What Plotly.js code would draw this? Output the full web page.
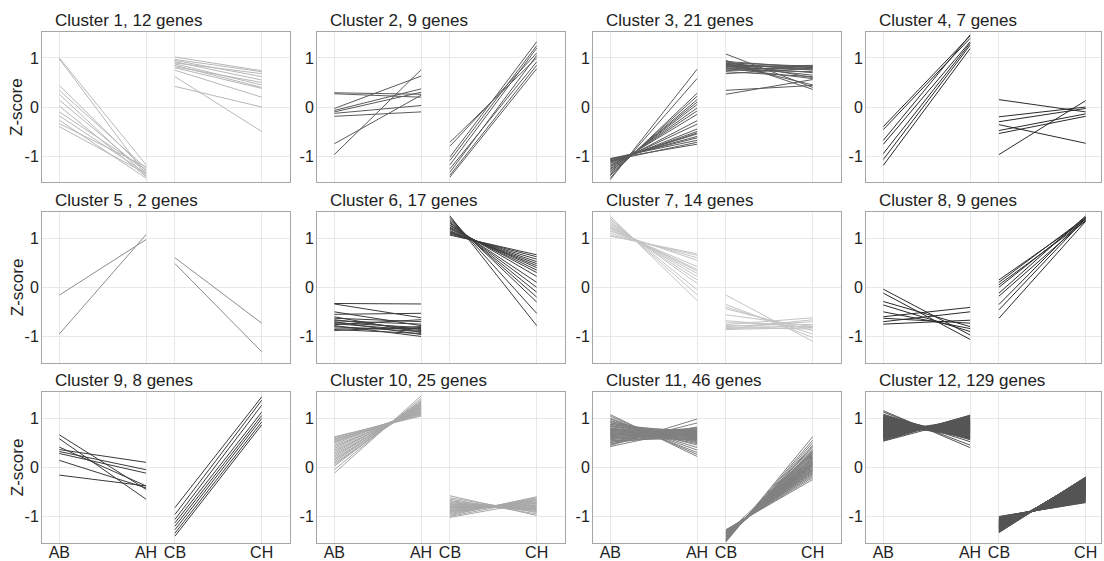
<!DOCTYPE html>
<html><head><meta charset="utf-8">
<script src="https://cdn.plot.ly/plotly-3.0.1.min.js"></script>
<style>html,body{margin:0;padding:0;background:#fff}#chart{width:1104px;height:561px}</style>
</head><body><div id="chart"></div>
<script>
const xCats = ['AB','AH','CB','CH'];
const xPos = [0, 3, 4, 7];
const yTicks = [-1, 0, 1];
const yTickText = ['-1', '0', '1'];
const titles = ['Cluster 1, 12 genes','Cluster 2, 9 genes','Cluster 3, 21 genes','Cluster 4, 7 genes',
  'Cluster 5 , 2 genes','Cluster 6, 17 genes','Cluster 7, 14 genes','Cluster 8, 9 genes',
  'Cluster 9, 8 genes','Cluster 10, 25 genes','Cluster 11, 46 genes','Cluster 12, 129 genes'];
const lineColors = ['#b8b8b8','#5a5a5a','#5a5a5a','#2a2a2a','#8c8c8c','#3c3c3c','#c4c4c4','#2a2a2a','#3a3a3a','#a8a8a8','#808080','#555555'];

const c1AB = [1.00,0.98,0.44,0.34,0.26,0.14,0.02,-0.10,-0.18,-0.27,-0.34,-0.40];
const c1AH = [-1.18,-1.38,-1.30,-1.25,-1.40,-1.33,-1.42,-1.28,-1.35,-1.45,-1.22,-1.36];
const c1CB = [1.02,0.97,0.95,0.92,0.90,0.88,0.85,0.82,0.80,0.75,0.62,0.42];
const c1CH = [0.74,0.72,0.62,0.55,0.68,0.45,0.40,0.50,0.38,0.20,-0.50,0.00];

const c2AB = [0.29,0.27,-0.03,-0.07,-0.10,-0.13,-0.19,-0.75,-0.97];
const c2AH = [0.26,0.20,0.63,0.37,0.30,0.03,-0.10,0.24,0.76];
const c2CB = [-0.72,-0.80,-1.02,-1.09,-1.18,-1.26,-1.33,-1.39,-1.43];
const c2CH = [1.00,1.10,1.33,1.25,1.20,0.92,1.05,0.85,0.78];

const c3AB = [-1.48,-1.45,-1.40,-1.38,-1.35,-1.32,-1.30,-1.27,-1.25,-1.22,-1.20,-1.18,-1.15,-1.13,-1.12,-1.10,-1.08,-1.07,-1.05,-1.10,-1.06];
const c3AH = [0.77,0.58,0.28,0.22,0.15,0.10,0.05,-0.02,-0.08,-0.15,-0.28,-0.35,-0.45,-0.50,-0.53,-0.55,-0.60,-0.63,-0.68,-0.72,-0.76];
const c3CB = [1.08,0.95,0.93,0.92,0.90,0.89,0.88,0.87,0.85,0.84,0.83,0.82,0.80,0.79,0.78,0.76,0.74,0.72,0.68,0.34,0.26];
const c3CH = [0.40,0.36,0.80,0.60,0.83,0.75,0.45,0.78,0.82,0.70,0.65,0.85,0.77,0.58,0.80,0.72,0.84,0.62,0.79,0.44,0.56];

const c4AB = [-0.40,-0.46,-0.68,-0.76,-0.95,-1.07,-1.19];
const c4AH = [1.45,1.40,1.47,1.33,1.30,1.26,1.19];
const c4CB = [0.15,-0.20,-0.30,-0.36,-0.48,-0.54,-0.97];
const c4CH = [-0.10,0.00,-0.03,-0.74,-0.14,-0.19,0.13];

const c5AB = [-0.16,-0.95];
const c5AH = [0.97,1.07];
const c5CB = [0.60,0.48];
const c5CH = [-0.73,-1.31];

const c6AB = [-0.33,-0.34,-0.50,-0.55,-0.60,-0.63,-0.66,-0.68,-0.70,-0.72,-0.74,-0.76,-0.78,-0.80,-0.83,-0.86,-0.88];
const c6AH = [-0.34,-0.62,-0.78,-0.53,-0.92,-0.70,-0.86,-0.75,-0.96,-0.82,-0.88,-0.66,-1.00,-0.90,-0.84,-0.94,-0.80];
const c6CB = [1.45,1.42,1.38,1.35,1.32,1.30,1.27,1.25,1.22,1.20,1.18,1.15,1.13,1.12,1.10,1.08,1.06];
const c6CH = [-0.78,-0.53,-0.30,-0.20,-0.10,0.00,0.10,0.22,0.30,0.35,0.40,0.44,0.48,0.52,0.57,0.62,0.66];

const c7AB = [1.44,1.40,1.37,1.33,1.30,1.27,1.24,1.22,1.20,1.17,1.14,1.10,1.06,1.04];
const c7AH = [-0.27,-0.15,-0.05,0.08,0.15,0.22,0.28,0.33,0.36,0.42,0.55,0.60,0.65,0.68];
const c7CB = [-0.16,-0.35,-0.40,-0.44,-0.56,-0.68,-0.72,-0.76,-0.78,-0.80,-0.82,-0.84,-0.85,-0.86];
const c7CH = [-1.10,-1.02,-0.95,-0.88,-0.80,-0.82,-0.76,-0.62,-0.80,-0.70,-0.85,-0.79,-0.66,-0.82];

const c8AB = [-0.04,-0.12,-0.29,-0.36,-0.50,-0.60,-0.63,-0.70,-0.75];
const c8AH = [-0.97,-1.06,-0.80,-0.90,-0.84,-0.41,-0.73,-0.50,-0.67];
const c8CB = [0.15,0.10,0.05,0.00,-0.12,-0.18,-0.35,-0.46,-0.63];
const c8CH = [1.38,1.42,1.35,1.40,1.45,1.36,1.43,1.40,1.34];

const c9AB = [0.66,0.58,0.41,0.36,0.32,0.28,0.14,-0.16];
const c9AH = [-0.45,-0.65,-0.38,0.10,-0.05,-0.12,-0.42,-0.38];
const c9CB = [-0.82,-0.96,-1.06,-1.13,-1.20,-1.27,-1.34,-1.40];
const c9CH = [1.43,1.36,1.26,1.12,1.05,0.99,0.92,0.86];

const c10AB = [0.62,0.60,0.58,0.56,0.54,0.52,0.50,0.47,0.44,0.41,0.38,0.35,0.32,0.29,0.26,0.23,0.20,0.17,0.14,0.11,0.08,0.05,0.02,-0.05,-0.12];
const c10AH = [1.04,1.08,1.06,1.10,1.12,1.09,1.14,1.16,1.13,1.18,1.20,1.17,1.22,1.24,1.21,1.26,1.28,1.25,1.30,1.32,1.29,1.34,1.36,1.40,1.45];
const c10CB = [-0.58,-0.62,-0.65,-0.68,-0.70,-0.72,-0.74,-0.76,-0.78,-0.80,-0.81,-0.83,-0.85,-0.86,-0.88,-0.90,-0.92,-0.94,-0.96,-0.98,-1.00,-1.02,-0.75,-0.82,-0.90];
const c10CH = [-0.98,-0.92,-0.95,-0.88,-0.90,-0.86,-0.84,-0.87,-0.82,-0.80,-0.78,-0.76,-0.74,-0.72,-0.70,-0.68,-0.66,-0.64,-0.62,-0.60,-0.65,-0.70,-0.85,-0.78,-0.73];

const c11AB = [1.07,1.04,1.00,0.98,0.95,0.93,0.91,0.90,0.88,0.87,0.85,0.84,0.83,0.82,0.80,0.79,0.78,0.77,0.76,0.75,0.74,0.73,0.72,0.71,0.70,0.69,0.68,0.67,0.66,0.65,0.64,0.63,0.62,0.61,0.60,0.58,0.57,0.56,0.54,0.53,0.51,0.50,0.48,0.46,0.44,0.42];
const c11AH = [0.22,0.26,0.30,0.35,0.40,0.55,0.45,0.62,0.50,0.70,0.58,0.48,0.66,0.74,0.60,0.52,0.68,0.72,0.56,0.64,0.78,0.60,0.70,0.54,0.66,0.76,0.62,0.58,0.72,0.68,0.80,0.64,0.74,0.56,0.70,0.78,0.66,0.72,0.60,0.76,0.68,0.82,0.74,0.90,0.98,0.80];
const c11CB = [-1.52,-1.50,-1.49,-1.48,-1.47,-1.46,-1.46,-1.45,-1.44,-1.44,-1.43,-1.42,-1.42,-1.41,-1.40,-1.40,-1.39,-1.39,-1.38,-1.38,-1.37,-1.37,-1.36,-1.36,-1.35,-1.35,-1.34,-1.34,-1.33,-1.33,-1.32,-1.32,-1.31,-1.31,-1.30,-1.30,-1.29,-1.29,-1.28,-1.28,-1.27,-1.44,-1.40,-1.36,-1.34,-1.38];
const c11CH = [0.62,0.55,0.50,0.45,0.42,0.40,0.36,0.34,0.32,0.30,0.28,0.26,0.24,0.22,0.20,0.18,0.17,0.15,0.14,0.12,0.11,0.10,0.08,0.07,0.06,0.05,0.04,0.02,0.01,0.00,-0.02,-0.04,-0.05,-0.07,-0.09,-0.11,-0.13,-0.15,-0.18,-0.21,-0.25,0.20,0.10,0.30,-0.06,0.02];

const c12AB = [1.15,1.12,1.08,1.06,1.05,1.04,1.04,1.03,1.02,1.02,
  1.01,1.00,1.00,0.99,0.99,0.98,0.98,0.97,0.97,0.96,
  0.96,0.95,0.95,0.94,0.94,0.93,0.93,0.92,0.92,0.91,
  0.91,0.90,0.90,0.90,0.89,0.89,0.88,0.88,0.88,0.87,
  0.87,0.86,0.86,0.86,0.85,0.85,0.85,0.84,0.84,0.84,
  0.83,0.83,0.83,0.82,0.82,0.82,0.81,0.81,0.81,0.80,
  0.80,0.80,0.79,0.79,0.79,0.78,0.78,0.78,0.77,0.77,
  0.77,0.76,0.76,0.76,0.75,0.75,0.75,0.74,0.74,0.74,
  0.73,0.73,0.73,0.72,0.72,0.72,0.71,0.71,0.71,0.70,
  0.70,0.70,0.69,0.69,0.69,0.68,0.68,0.68,0.67,0.67,
  0.67,0.66,0.66,0.66,0.65,0.65,0.65,0.64,0.64,0.63,
  0.63,0.62,0.62,0.61,0.61,0.60,0.60,0.59,0.58,0.57,
  0.56,0.55,0.54,0.53,0.90,0.85,0.80,0.75,0.70];
const c12AH = [0.40,0.45,0.52,0.58,0.56,0.60,0.57,0.59,0.61,0.58,
  0.60,0.62,0.59,0.63,0.61,0.64,0.62,0.65,0.63,0.66,
  0.64,0.67,0.65,0.68,0.66,0.69,0.67,0.70,0.68,0.71,
  0.69,0.72,0.70,0.68,0.73,0.71,0.74,0.72,0.70,0.75,
  0.73,0.76,0.74,0.72,0.77,0.75,0.73,0.78,0.76,0.74,
  0.79,0.77,0.75,0.80,0.78,0.76,0.81,0.79,0.77,0.82,
  0.80,0.78,0.83,0.81,0.79,0.84,0.82,0.80,0.85,0.83,
  0.81,0.86,0.84,0.82,0.87,0.85,0.83,0.88,0.86,0.84,
  0.89,0.87,0.85,0.90,0.88,0.86,0.91,0.89,0.87,0.92,
  0.90,0.88,0.93,0.91,0.89,0.94,0.92,0.90,0.95,0.93,
  0.91,0.96,0.94,0.92,0.97,0.95,0.93,0.98,0.96,0.99,
  0.97,1.00,0.98,1.01,0.99,1.02,1.00,1.03,1.04,1.05,
  1.04,1.06,1.05,1.00,0.60,0.66,0.70,0.92,0.98];
const c12CB = [-1.00,-1.01,-1.01,-1.02,-1.02,-1.03,-1.03,-1.04,-1.04,-1.05,
  -1.05,-1.05,-1.06,-1.06,-1.06,-1.07,-1.07,-1.07,-1.08,-1.08,
  -1.08,-1.09,-1.09,-1.09,-1.10,-1.10,-1.10,-1.11,-1.11,-1.11,
  -1.12,-1.12,-1.12,-1.12,-1.13,-1.13,-1.13,-1.13,-1.14,-1.14,
  -1.14,-1.14,-1.15,-1.15,-1.15,-1.15,-1.16,-1.16,-1.16,-1.16,
  -1.17,-1.17,-1.17,-1.17,-1.18,-1.18,-1.18,-1.18,-1.19,-1.19,
  -1.19,-1.19,-1.20,-1.20,-1.20,-1.20,-1.21,-1.21,-1.21,-1.21,
  -1.22,-1.22,-1.22,-1.22,-1.23,-1.23,-1.23,-1.23,-1.24,-1.24,
  -1.24,-1.24,-1.25,-1.25,-1.25,-1.25,-1.26,-1.26,-1.26,-1.26,
  -1.27,-1.27,-1.27,-1.27,-1.28,-1.28,-1.28,-1.28,-1.29,-1.29,
  -1.29,-1.29,-1.30,-1.30,-1.30,-1.30,-1.31,-1.31,-1.31,-1.32,
  -1.32,-1.33,-1.10,-1.15,-1.20,-1.25,-1.05,-1.12,-1.18,-1.22,
  -1.08,-1.14,-1.17,-1.24,-1.27,-1.11,-1.19,-1.21,-1.16];
const c12CH = [-0.72,-0.70,-0.71,-0.69,-0.67,-0.68,-0.66,-0.66,-0.64,-0.64,
  -0.62,-0.65,-0.63,-0.61,-0.64,-0.60,-0.62,-0.59,-0.59,-0.61,
  -0.57,-0.58,-0.56,-0.59,-0.55,-0.57,-0.54,-0.55,-0.53,-0.56,
  -0.53,-0.52,-0.54,-0.50,-0.51,-0.49,-0.52,-0.50,-0.48,-0.49,
  -0.47,-0.50,-0.46,-0.48,-0.45,-0.47,-0.44,-0.46,-0.43,-0.45,
  -0.43,-0.41,-0.44,-0.42,-0.40,-0.42,-0.39,-0.41,-0.38,-0.40,
  -0.37,-0.39,-0.36,-0.38,-0.35,-0.37,-0.34,-0.36,-0.33,-0.35,
  -0.33,-0.31,-0.34,-0.32,-0.30,-0.32,-0.29,-0.31,-0.28,-0.30,
  -0.29,-0.27,-0.28,-0.26,-0.29,-0.27,-0.25,-0.27,-0.24,-0.26,
  -0.25,-0.23,-0.26,-0.24,-0.22,-0.24,-0.23,-0.25,-0.22,-0.23,
  -0.24,-0.22,-0.21,-0.23,-0.22,-0.24,-0.21,-0.22,-0.23,-0.20,
  -0.22,-0.20,-0.56,-0.46,-0.36,-0.28,-0.65,-0.51,-0.41,-0.32,
  -0.60,-0.49,-0.43,-0.30,-0.25,-0.55,-0.38,-0.35,-0.44];

const clusterData = [
  [c1AB,c1AH,c1CB,c1CH],[c2AB,c2AH,c2CB,c2CH],[c3AB,c3AH,c3CB,c3CH],[c4AB,c4AH,c4CB,c4CH],
  [c5AB,c5AH,c5CB,c5CH],[c6AB,c6AH,c6CB,c6CH],[c7AB,c7AH,c7CB,c7CH],[c8AB,c8AH,c8CB,c8CH],
  [c9AB,c9AH,c9CB,c9CH],[c10AB,c10AH,c10CB,c10CH],[c11AB,c11AH,c11CB,c11CH],[c12AB,c12AH,c12CB,c12CH]
];

const W = 1104, H = 561;
const colLeft = [42, 317, 593, 866];
const colRight = [290, 565, 841, 1101];
const rowTop = [32, 212, 392];
const rowBottom = [182, 362.5, 542.5];
const pxPerUnit = 248 / 8.58;
const xMin = -0.6;
const font = 'Liberation Sans, Arial, sans-serif';

const traces = [];
const layout = {
  width: W, height: H, margin: {l:0, r:0, t:0, b:0},
  paper_bgcolor: '#fff', plot_bgcolor: '#fff', showlegend: false,
  font: {family: font, size: 16, color: '#222'},
  annotations: []
};

function segment(a, b, xa, xb) {
  const xs = [], ys = [];
  const n = Math.min(a.length, b.length);
  for (let j = 0; j < n; j++) { xs.push(xa, xb, null); ys.push(a[j], b[j], null); }
  return {xs, ys};
}

for (let i = 0; i < 12; i++) {
  const r = Math.floor(i / 4), c = i % 4;
  const sfx = i === 0 ? '' : String(i + 1);
  const d = clusterData[i];
  const s1 = segment(d[0], d[1], xPos[0], xPos[1]);
  const s2 = segment(d[2], d[3], xPos[2], xPos[3]);
  [s1, s2].forEach(s => traces.push({
    type: 'scatter', mode: 'lines', x: s.xs, y: s.ys,
    xaxis: 'x' + sfx, yaxis: 'y' + sfx, hoverinfo: 'skip',
    line: {color: lineColors[i], width: 1}, connectgaps: false
  }));
  const xMax = xMin + (colRight[c] - colLeft[c]) / pxPerUnit;
  layout['xaxis' + sfx] = {
    domain: [colLeft[c] / W, colRight[c] / W], range: [xMin, xMax],
    anchor: 'y' + sfx, tickmode: 'array', tickvals: xPos, ticktext: xCats,
    showticklabels: r === 2, ticks: '', ticklabelstandoff: -5, showgrid: true, gridcolor: '#e8e8e8', gridwidth: 1,
    zeroline: false, showline: true, mirror: true, linecolor: '#a6a6a6', linewidth: 1,
    tickfont: {family: font, size: 16, color: '#222'}, fixedrange: true
  };
  layout['yaxis' + sfx] = {
    domain: [1 - rowBottom[r] / H, 1 - rowTop[r] / H], range: [-1.53, 1.53],
    anchor: 'x' + sfx, tickmode: 'array', tickvals: yTicks, ticktext: yTickText,
    ticks: '', ticklabelstandoff: -1, showgrid: true, gridcolor: '#e8e8e8', gridwidth: 1,
    zeroline: false, showline: true, mirror: true, linecolor: '#a6a6a6', linewidth: 1,
    tickfont: {family: font, size: 16, color: '#222'}, fixedrange: true
  };
  layout.annotations.push({
    xref: 'paper', yref: 'paper', x: (colLeft[c] + 11) / W, y: 1 - rowTop[r] / H,
    xanchor: 'left', yanchor: 'bottom', showarrow: false, text: titles[i],
    font: {family: font, size: 17, color: '#222'}
  });
  if (c === 0) {
    layout.annotations.push({
      xref: 'paper', yref: 'paper', x: 17 / W, y: 1 - (rowTop[r] + rowBottom[r]) / 2 / H,
      xanchor: 'center', yanchor: 'middle', showarrow: false, text: 'Z-score', textangle: -90,
      font: {family: font, size: 17, color: '#222'}
    });
  }
}

Plotly.newPlot('chart', traces, layout, {displayModeBar: false, staticPlot: true});
</script>
</body></html>
